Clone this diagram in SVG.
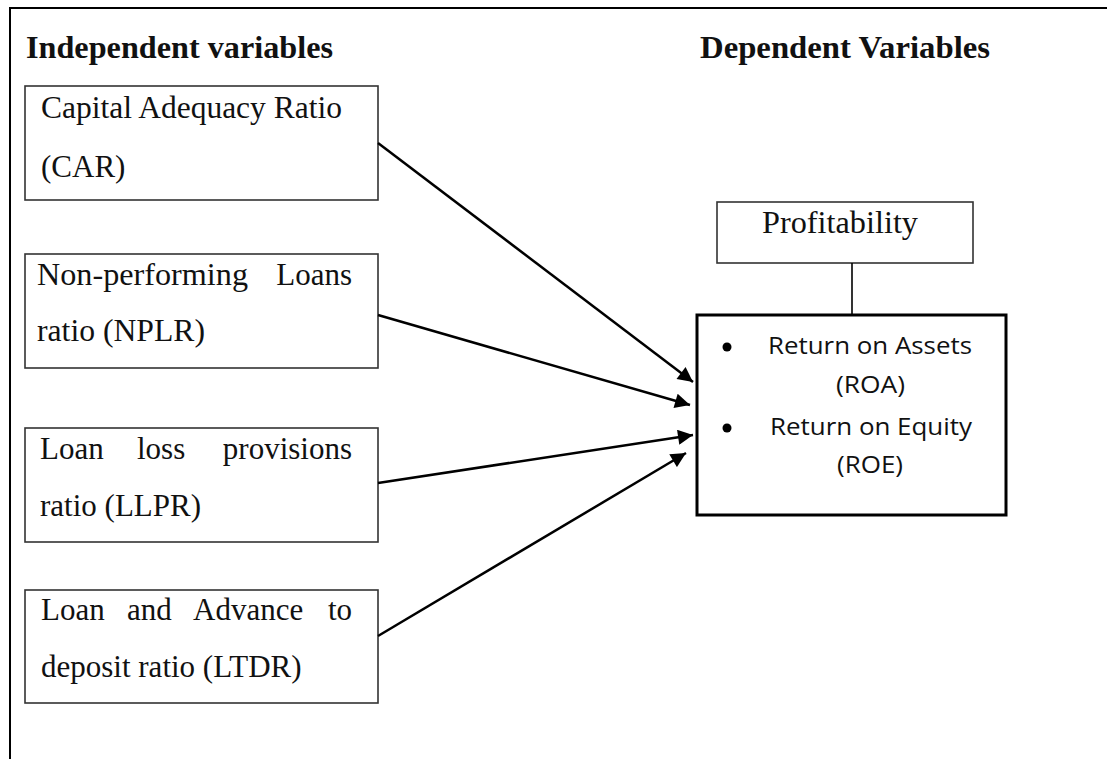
<svg xmlns="http://www.w3.org/2000/svg" width="1107" height="759" viewBox="0 0 1107 759">
<defs>
<style>
.frame{stroke:#000;stroke-width:2;fill:none}
.box{fill:#fff;stroke:#333;stroke-width:1.6}
.mainbox{fill:#fff;stroke:#000;stroke-width:3}
.t{font-family:"Liberation Serif","Times New Roman",serif;font-size:31px;fill:#111}
.h{font-family:"Liberation Serif","Times New Roman",serif;font-size:31px;font-weight:bold;fill:#111}
.s{font-family:"Open Sans","Liberation Sans",Arial,sans-serif;font-size:23px;fill:#111}
.e{text-anchor:end}
.conn{stroke:#000;stroke-width:2.5;fill:none}
</style>
<marker id="arr" viewBox="0 0 10 10" refX="10" refY="5" markerWidth="7" markerHeight="6" markerUnits="strokeWidth" orient="auto">
<path d="M0,0 L10,5 L0,10 z" fill="#000"/>
</marker>
</defs>
<rect width="1107" height="759" fill="#fff"/>
<path class="frame" d="M10,759 L10,8 L1107,8"/>
<text class="h" x="26" y="58" textLength="307" lengthAdjust="spacingAndGlyphs">Independent variables</text>
<text class="h" x="700" y="58" textLength="290" lengthAdjust="spacingAndGlyphs">Dependent Variables</text>
<g id="car">
<rect class="box" x="25" y="86" width="353" height="114"/>
<text class="t" x="41" y="118" textLength="301" lengthAdjust="spacingAndGlyphs">Capital Adequacy Ratio</text>
<text class="t" x="41" y="177">(CAR)</text>
</g>
<g id="nplr">
<rect class="box" x="25" y="254" width="353" height="114"/>
<text class="t" x="37" y="285" textLength="211" lengthAdjust="spacingAndGlyphs">Non-performing</text>
<text class="t e" x="352" y="285">Loans</text>
<text class="t" x="37" y="341" textLength="168" lengthAdjust="spacingAndGlyphs">ratio (NPLR)</text>
</g>
<g id="llpr">
<rect class="box" x="25" y="428" width="353" height="114"/>
<text class="t" x="40" y="459">Loan</text>
<text class="t" x="137" y="459">loss</text>
<text class="t e" x="352" y="459">provisions</text>
<text class="t" x="40" y="516">ratio (LLPR)</text>
</g>
<g id="ltdr">
<rect class="box" x="25" y="590" width="353" height="113"/>
<text class="t" x="41" y="620">Loan</text>
<text class="t" x="127" y="620">and</text>
<text class="t" x="193" y="620">Advance</text>
<text class="t e" x="352" y="620">to</text>
<text class="t" x="41" y="677">deposit ratio (LTDR)</text>
</g>
<g id="profitability">
<rect class="box" x="717" y="202" width="256" height="61"/>
<text class="t" x="762" y="233" textLength="156" lengthAdjust="spacingAndGlyphs">Profitability</text>
</g>
<g id="measures">
<rect class="mainbox" x="697" y="315" width="309" height="200"/>
<circle cx="727" cy="347" r="4.5" fill="#000"/>
<circle cx="727" cy="428" r="4.5" fill="#000"/>
<text class="s" x="768" y="354" textLength="204" lengthAdjust="spacingAndGlyphs">Return on Assets</text>
<text class="s" x="836" y="393" textLength="69" lengthAdjust="spacingAndGlyphs">(ROA)</text>
<text class="s" x="770" y="435" textLength="202" lengthAdjust="spacingAndGlyphs">Return on Equity</text>
<text class="s" x="837" y="473" textLength="66" lengthAdjust="spacingAndGlyphs">(ROE)</text>
</g>
<g id="connectors">
<line class="conn" style="stroke-width:1.6" x1="852" y1="263" x2="852" y2="315"/>
<line class="conn" x1="378" y1="143" x2="693" y2="382" marker-end="url(#arr)"/>
<line class="conn" x1="378" y1="315" x2="690" y2="405" marker-end="url(#arr)"/>
<line class="conn" x1="378" y1="483" x2="693" y2="435" marker-end="url(#arr)"/>
<line class="conn" x1="378" y1="636" x2="686" y2="453" marker-end="url(#arr)"/>
</g>
</svg>
